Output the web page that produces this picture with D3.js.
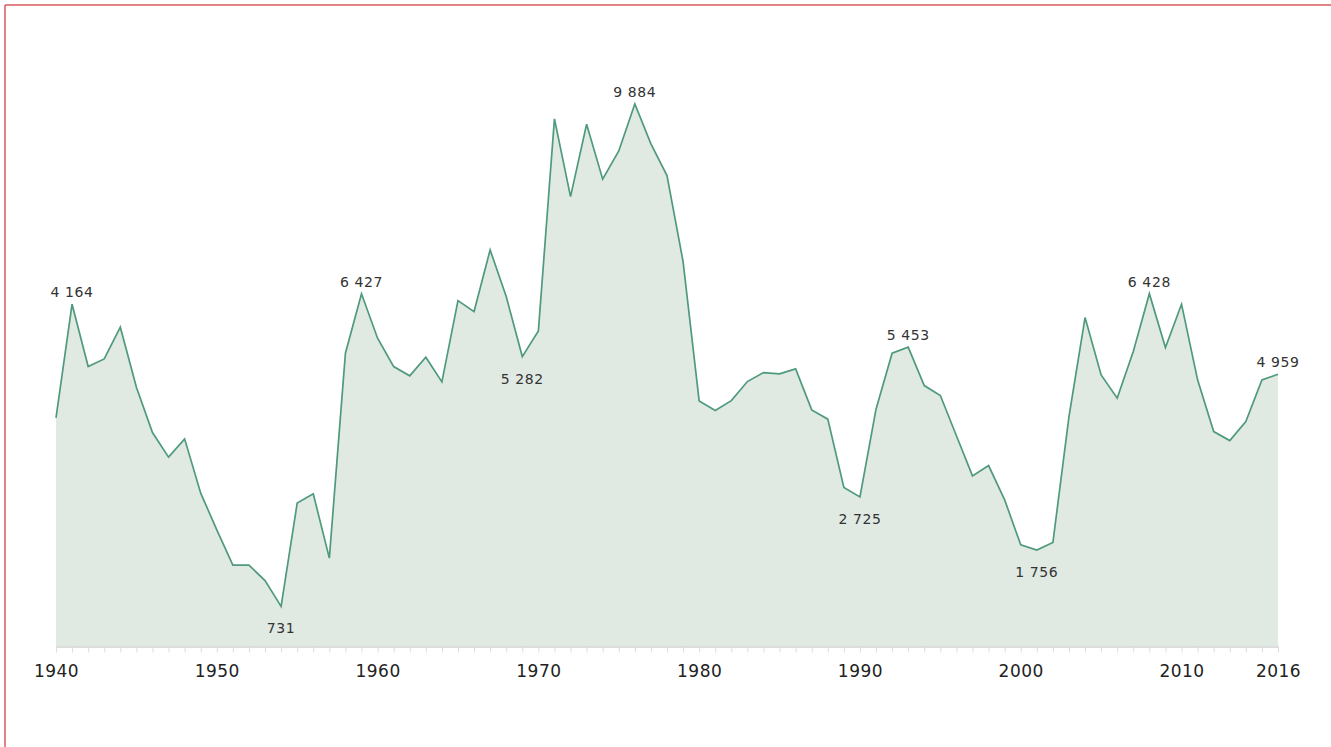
<!DOCTYPE html>
<html>
<head>
<meta charset="utf-8">
<script src="https://cdn.jsdelivr.net/npm/d3@7"></script>
<style>
  body { margin: 0; background: #fff; }
  #vis { width: 1331px; height: 747px; }
  text { font-family: "DejaVu Sans", sans-serif; }
</style>
</head>
<body>
<div id="vis"></div>
<script>
var width = 1331;
var height = 747;

var margin = {
  top: 104,
  bottom: 100.5,
  left: 56,
  right: 53
}

// yearly values 1940 - 2016
var years = d3.range(1940, 2017);
var values = [
  4164, 6237, 5100, 5240, 5818, 4725, 3898, 3450, 3783, 2794,
  2126, 1483, 1483, 1202, 731, 2612, 2781, 1610, 5344, 6427,
  5617, 5100, 4931, 5271, 4821, 6302, 6102, 7226, 6375, 5282,
  5750, 9612, 8197, 9515, 8514, 9029, 9884, 9157, 8579, 7013,
  4475, 4299, 4480, 4827, 4991, 4967, 5058, 4311, 4142, 2896,
  2725, 4324, 5344, 5453, 4754, 4572, 3840, 3109, 3297, 2672,
  1852, 1756, 1894, 4189, 5993, 4949, 4525, 5373, 6428, 5446,
  6237, 4858, 3916, 3752, 4098, 4858, 4959
];

var tickYears = [1940, 1950, 1960, 1970, 1980, 1990, 2000, 2010, 2016];

// annotated points
var labelYears = [1941, 1954, 1959, 1969, 1976, 1990, 1993, 2001, 2008, 2016];
var labelTexts = ['4 164', '731', '6 427', '5 282', '9 884', '2 725', '5 453', '1 756', '6 428', '4 959'];
var labelSide = ['above', 'below', 'above', 'below', 'above', 'below', 'above', 'below', 'above', 'above'];

var data = years.map(function(y, i) {
  return { year: y, value: values[i] };
});

var svg = d3.select('#vis')
.append('svg')
.attr('width', width)
.attr('height', height);

// frame lines top / left
svg.append('line')
  .attr('x1', 5).attr('y1', 5).attr('x2', width).attr('y2', 5)
  .attr('stroke', '#d85a5c').attr('stroke-width', 1.5);
svg.append('line')
  .attr('x1', 5).attr('y1', 5).attr('x2', 5).attr('y2', height)
  .attr('stroke', '#d85a5c').attr('stroke-width', 1.5);

var g = svg.append('g');

var x_scale = d3.scaleLinear()
.domain([1940, 2016])
.range([margin.left, width - margin.right]);

var y_scale = d3.scaleLinear()
.domain([0, d3.max(values)])
.range([height - margin.bottom, margin.top]);

var area = d3.area()
  .x(function(d) { return x_scale(d.year); })
  .y0(y_scale(0))
  .y1(function(d) { return y_scale(d.value); });

var line = d3.line()
  .x(function(d) { return x_scale(d.year); })
  .y(function(d) { return y_scale(d.value); });

g.append('path')
  .datum(data)
  .attr('d', area)
  .attr('fill', '#e0eae3');

// x axis, a tick every year
var x_axis = d3.axisBottom(x_scale)
  .tickValues(years)
  .tickSize(6)
  .tickSizeOuter(0)
  .tickFormat(function(d) { return tickYears.indexOf(d) >= 0 ? d : ''; });

var ax = g.append('g')
  .attr('class', 'x axis')
  .attr('transform', 'translate(0,' + y_scale(0) + ')')
  .call(x_axis);

ax.select('.domain')
  .attr('stroke', '#dddddd')
  .attr('stroke-width', 2);
ax.selectAll('.tick line')
  .attr('stroke', '#dddddd');
ax.selectAll('.tick text')
  .attr('fill', '#222')
  .attr('dy', '0')
  .attr('y', 30)
  .style('font-size', '17px')
  .style('letter-spacing', '0.5px');

g.append('path')
  .datum(data)
  .attr('d', line)
  .attr('fill', 'none')
  .attr('stroke', '#4f9a7d')
  .attr('stroke-width', 1.7)
  .attr('stroke-linejoin', 'miter');

g.selectAll('.lbl')
  .data(labelYears)
  .enter()
  .append('text')
  .attr('class', 'lbl')
  .attr('x', function(d) { return x_scale(d); })
  .attr('y', function(d, i) {
    var v = values[years.indexOf(d)];
    return labelSide[i] == 'above' ? y_scale(v) - 7 : y_scale(v) + 27;
  })
  .attr('text-anchor', 'middle')
  .attr('fill', '#333')
  .style('font-size', '14px')
  .style('letter-spacing', '0.6px')
  .text(function(d, i) { return labelTexts[i]; });
</script>
</body>
</html>
